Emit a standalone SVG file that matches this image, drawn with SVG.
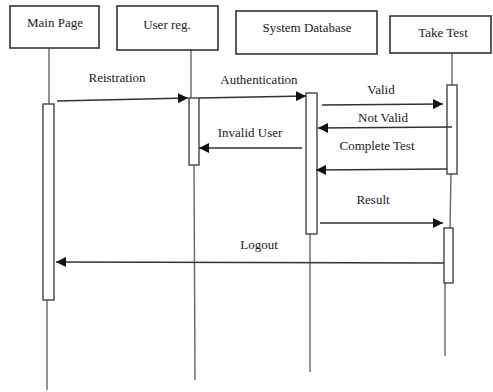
<svg xmlns="http://www.w3.org/2000/svg" width="493" height="392" viewBox="0 0 493 392">
<defs>
<marker id="ah" viewBox="0 0 10 10" refX="10" refY="5" markerWidth="10" markerHeight="10" markerUnits="userSpaceOnUse" orient="auto">
<path d="M0,0 L10,5 L0,10 z" fill="#111"/>
</marker>
<style>
.box{fill:#fff;stroke:#333;stroke-width:1.6}
.act{fill:#fff;stroke:#444;stroke-width:1.4}
.life{stroke:#666;stroke-width:1.4;fill:none}
.msg{stroke:#333;stroke-width:1.5;fill:none;marker-end:url(#ah)}
.t{font-family:'Liberation Serif','DejaVu Serif','Times New Roman',serif;font-size:13px;fill:#1a1a1a;text-anchor:middle}
</style>
</defs>
<rect width="493" height="392" fill="#fff"/>
<g id="lifelines">
<line class="life" x1="49" y1="48" x2="49" y2="104"/>
<line class="life" x1="47" y1="300" x2="47" y2="390"/>
<line class="life" x1="191" y1="50" x2="191" y2="98"/>
<line class="life" x1="194" y1="165" x2="195" y2="380"/>
<line class="life" x1="310" y1="234" x2="310" y2="372"/>
<line class="life" x1="452" y1="53" x2="452" y2="85"/>
<line class="life" x1="451" y1="174" x2="450" y2="228"/>
<line class="life" x1="445" y1="283" x2="445" y2="356"/>
</g>
<g id="main-page">
<rect class="box" x="10" y="6" width="89" height="42"/>
<text class="t" x="55" y="27">Main Page</text>
<rect class="act" x="43" y="104" width="11" height="196"/>
</g>
<g id="user-reg">
<rect class="box" x="117" y="6" width="101" height="44"/>
<text class="t" x="167" y="29">User reg.</text>
<rect class="act" x="189" y="98" width="10" height="67"/>
</g>
<g id="system-database">
<rect class="box" x="236" y="11" width="141" height="43"/>
<text class="t" x="307" y="32">System Database</text>
<rect class="act" x="306" y="93" width="11" height="141"/>
</g>
<g id="take-test">
<rect class="box" x="390" y="16" width="101" height="37"/>
<text class="t" x="443" y="37">Take Test</text>
<rect class="act" x="447" y="85" width="10" height="89"/>
<rect class="act" x="444" y="228" width="9" height="55"/>
</g>
<g id="connectors">
<line class="msg" x1="57" y1="101" x2="188" y2="98"/>
<text class="t" x="117" y="82">Reistration</text>
<line class="msg" x1="199" y1="98" x2="306" y2="96"/>
<text class="t" x="259" y="84">Authentication</text>
<line class="msg" x1="322" y1="105" x2="443" y2="104"/>
<text class="t" x="381" y="94">Valid</text>
<line class="msg" x1="452" y1="127" x2="318" y2="128"/>
<text class="t" x="383" y="122">Not Valid</text>
<line class="msg" x1="302" y1="148" x2="199" y2="148"/>
<text class="t" x="250" y="137">Invalid User</text>
<line class="msg" x1="447" y1="169" x2="316" y2="170"/>
<text class="t" x="377" y="150">Complete Test</text>
<line class="msg" x1="320" y1="223" x2="443" y2="223"/>
<text class="t" x="373" y="204">Result</text>
<line class="msg" x1="444" y1="263" x2="56" y2="262"/>
<text class="t" x="259" y="249">Logout</text>
</g>
</svg>
